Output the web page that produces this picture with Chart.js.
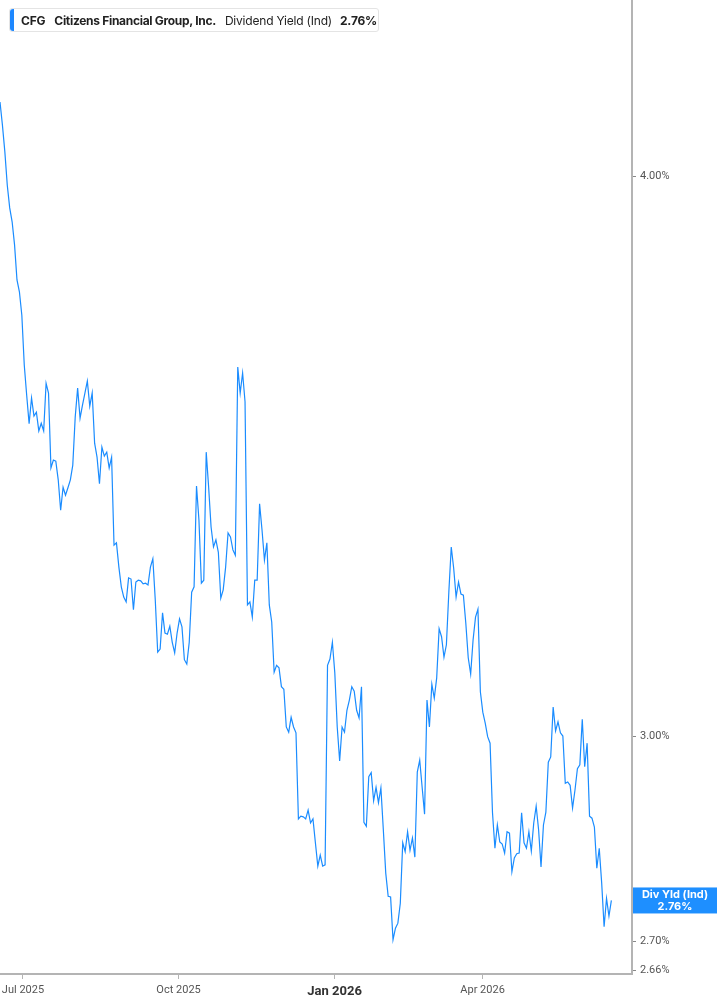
<!DOCTYPE html>
<html>
<head>
<meta charset="utf-8">
<script src="https://cdn.jsdelivr.net/npm/chart.js@4.4.1/dist/chart.umd.min.js"></script>
<style>
  html, body { margin: 0; padding: 0; background: #fff; }
  #wrap { position: relative; width: 717px; height: 1005px; }
  #legend {
    position: absolute; left: 9px; top: 8px; height: 24px; width: 370px;
    border: 1px solid #e4e4e4; border-radius: 3px; background: #fff;
    font-family: Inter, "Noto Sans", sans-serif; font-size: 12px; color: #222;
    display: flex; align-items: center; box-sizing: border-box; white-space: nowrap;
  }
  #legend .bar { position: absolute; left: 0; top: 0; bottom: 0; width: 4px; background: #1e88ff; border-radius: 3px 0 0 3px; }
  #legend .tk { font-weight: 700; margin-left: 11px; letter-spacing: -0.2px; }
  #legend .nm { font-weight: 700; margin-left: 9px; letter-spacing: -0.3px; }
  #legend .ms { font-weight: 400; margin-left: 9px; letter-spacing: -0.2px; }
  #legend .vl { font-weight: 700; margin-left: 8px; letter-spacing: -0.2px; }
</style>
</head>
<body>
<div id="wrap">
  <canvas id="c" width="717" height="1005"></canvas>
  <div id="legend"><span class="bar"></span><span class="tk">CFG</span><span class="nm">Citizens Financial Group, Inc.</span><span class="ms">Dividend Yield (Ind)</span><span class="vl">2.76%</span></div>
</div>
<script>
// Daily indicated dividend yield (%), CFG, mid-Jun 2025 .. mid-Jun 2026 (one value per trading day)
const dividendYield = [
  4.155,4.106,4.050,3.981,3.935,3.907,3.861,3.792,3.769,3.724,3.630,3.574,3.522,
  3.569,3.536,3.543,3.509,3.523,3.509,3.596,3.578,3.443,3.457,3.455,3.422,3.369,3.409,3.395,3.408,
  3.422,3.448,3.534,3.587,3.532,3.556,3.578,3.600,3.554,3.578,3.487,3.462,3.415,3.480,3.464,3.471,3.443,3.462,
  3.309,3.313,3.272,3.239,3.222,3.214,3.254,3.252,3.201,3.247,3.250,3.249,3.244,3.245,3.242,3.272,3.286,3.217,
  3.132,3.137,3.196,3.163,3.161,3.174,3.148,3.131,3.163,3.186,3.173,3.120,3.113,3.148,3.230,3.239,3.411,3.352,
  3.245,3.250,3.471,3.409,3.340,
  3.306,3.318,3.297,3.220,3.234,3.272,3.330,3.323,3.301,3.292,3.626,3.578,3.615,3.562,3.209,3.214,3.189,3.250,
  3.250,3.380,3.335,3.284,3.313,3.209,3.181,3.100,3.111,3.107,3.077,3.073,3.014,3.006,3.029,3.014,3.005,2.875,
  2.879,2.878,2.875,2.888,2.869,
  2.875,2.840,2.806,2.822,2.806,2.808,3.111,3.121,3.148,3.099,3.014,2.962,3.014,3.006,3.040,3.056,3.077,3.070,
  3.040,3.028,3.077,2.870,2.864,2.938,2.944,2.902,2.922,2.899,2.921,2.859,2.796,2.763,2.762,2.702,2.718,2.725,
  2.753,2.840,2.827,2.856,2.829,
  2.847,2.819,2.945,2.963,2.922,2.882,3.056,3.014,3.081,3.059,3.091,3.170,3.157,3.124,3.144,3.230,3.306,3.270,
  3.222,3.247,3.227,3.225,3.179,3.123,3.097,3.152,3.189,3.202,3.069,3.037,3.020,2.999,2.989,2.884,2.832,2.866,
  2.841,2.838,2.825,2.856,2.854,
  2.798,2.818,2.824,2.825,2.884,2.840,2.832,2.856,2.828,2.869,2.894,2.859,2.805,2.866,2.885,2.960,2.968,3.045,
  3.008,3.022,3.005,3.000,2.928,2.930,2.925,2.891,2.918,2.950,2.956,3.026,2.953,2.989,2.879,2.876,2.863,2.803,
  2.832,2.782,2.720,2.760,2.735,2.757
];
// x-axis ticks (position in trading-day index) and their labels
const xTickIndex = [9.48, 73.6, 137.9, 198.9];
const xTickLabels = ['Jul 2025', 'Oct 2025', 'Jan 2026', 'Apr 2026'];
const yTickValues = [2.66, 2.70, 3.00, 4.00];
const yMin = 2.6548, yMax = 4.3785;
const xMax = 260.5;
const seriesLabel = 'Div Yld (Ind)';

const points = dividendYield.map((v, i) => ({ x: i, y: v }));

const lastValuePlugin = {
  id: 'lastValue',
  afterDraw(chart) {
    const { ctx, chartArea, scales } = chart;
    const v = dividendYield[dividendYield.length - 1];
    const y = scales.y.getPixelForValue(v);
    const left = chartArea.right + 1;
    const w = chart.width - left;
    const h = 26;
    ctx.save();
    ctx.fillStyle = '#1e8fff';
    ctx.fillRect(left, y - h / 2, w, h);
    ctx.fillStyle = '#fff';
    ctx.textAlign = 'center';
    ctx.textBaseline = 'middle';
    ctx.font = '700 11px Inter, "Noto Sans", sans-serif';
    ctx.fillText(seriesLabel, left + w / 2, y - 6);
    ctx.fillText(v.toFixed(2) + '%', left + w / 2, y + 6);
    ctx.restore();
  }
};

new Chart(document.getElementById('c'), {
  type: 'line',
  data: {
    datasets: [{
      data: points,
      borderColor: '#1a8cff',
      borderWidth: 1.2,
      pointRadius: 0,
      tension: 0,
      fill: false
    }]
  },
  options: {
    responsive: false,
    animation: false,
    layout: { padding: 0, autoPadding: false },
    plugins: { legend: { display: false }, tooltip: { enabled: false } },
    scales: {
      x: {
        type: 'linear',
        min: 0, max: xMax,
        border: { display: true, color: '#b4b4b4', width: 2 },
        grid: { display: true, drawOnChartArea: false, drawTicks: true, tickLength: 5, color: '#b4b4b4' },
        afterBuildTicks: (s) => { s.ticks = xTickIndex.map(v => ({ value: v })); },
        afterFit: (s) => { s.height = 31; s.paddingLeft = 0; s.paddingRight = 0; },
        ticks: {
          autoSkip: false, maxRotation: 0, padding: 5,
          callback: (v) => { const i = xTickIndex.indexOf(v); return i >= 0 ? xTickLabels[i] : ''; },
          color: (c) => (c.tick && c.tick.label === 'Jan 2026') ? '#333' : '#555',
          font: (c) => (c.tick && c.tick.label === 'Jan 2026')
            ? { family: 'Roboto, "Noto Sans", sans-serif', size: 13, weight: '700' }
            : { family: 'Roboto, "Noto Sans", sans-serif', size: 11, weight: '400' }
        }
      },
      y: {
        type: 'logarithmic',
        position: 'right',
        min: yMin, max: yMax,
        border: { display: true, color: '#b4b4b4', width: 2 },
        grid: { display: true, drawOnChartArea: false, drawTicks: true, tickLength: 4, color: '#888' },
        afterBuildTicks: (s) => { s.ticks = yTickValues.map(v => ({ value: v })); },
        afterFit: (s) => { s.width = 85; s.paddingTop = 0; s.paddingBottom = 0; },
        ticks: {
          padding: 4,
          color: '#555',
          font: { family: 'Roboto, "Noto Sans", sans-serif', size: 11 },
          callback: (v) => Number(v).toFixed(2) + '%'
        }
      }
    }
  },
  plugins: [lastValuePlugin]
});
</script>
</body>
</html>
